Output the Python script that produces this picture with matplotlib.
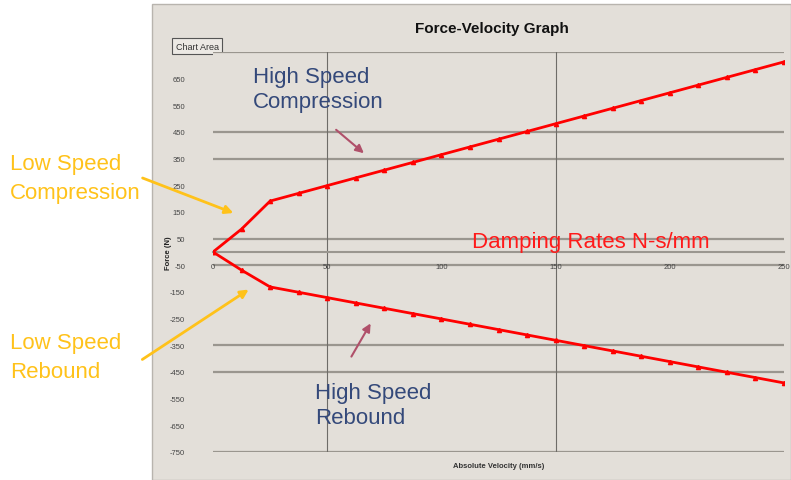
import numpy as np
import matplotlib.pyplot as plt
from matplotlib.patches import Rectangle

plt.rcParams['font.family'] = ['Liberation Sans', 'DejaVu Sans']

W, H = 791, 481

# data
velocity = [0, 12.5, 25, 37.5, 50, 62.5, 75, 87.5, 100, 112.5, 125, 137.5,
            150, 162.5, 175, 187.5, 200, 212.5, 225, 237.5, 250]
compression = [0, 86, 191, 220, 249, 278, 307, 336, 365, 394, 423, 452,
               481, 510, 539, 568, 597, 626, 655, 684, 713]
rebound = [0, -68, -131, -151, -171, -191, -211, -231, -251, -271, -291, -311,
           -331, -351, -371, -391, -411, -431, -451, -471, -491]

x_ticks = [0, 50, 100, 150, 200, 250]
y_ticks = [650, 550, 450, 350, 250, 150, 50, -50, -150, -250, -350, -450, -550, -650, -750]
grid_y = [750, 450, 350, 50, -50, -350, -450, -750]
grid_x = [50, 150]

bg_col = '#e3dfd9'
line_col = 'red'


def px_axes(fig, x0, y0, x1, y1):
    # axes from pixel box (top-left origin)
    return fig.add_axes([x0 / W, 1 - y1 / H, (x1 - x0) / W, (y1 - y0) / H])


fig = plt.figure(figsize=(W / 100, H / 100), dpi=100)
fig.patch.set_facecolor('white')

bg = fig.add_axes([0, 0, 1, 1])
bg.set_xlim(0, W)
bg.set_ylim(H, 0)
bg.axis('off')
bg.add_patch(Rectangle((152, 5), W - 152, H - 5, facecolor=bg_col, edgecolor='#b8b4ae', lw=1))
bg.text(492, 29, 'Force-Velocity Graph', ha='center', va='center',
        fontsize=11, fontweight='bold', color='#111111')
bg.text(197, 47, 'Chart Area', ha='center', va='center', fontsize=6.5, color='#333333',
        bbox=dict(boxstyle='square,pad=0.35', facecolor='#ece9e4', edgecolor='#555555', lw=0.8))

ax = px_axes(fig, 213, 53, 784, 453)
ax.set_facecolor(bg_col)
ax.set_xlim(0, 250)
ax.set_ylim(-750, 750)
for s in ['left', 'right', 'top']:
    ax.spines[s].set_visible(False)
ax.spines['bottom'].set_position(('data', 0))
ax.spines['bottom'].set_color('#9a968f')
ax.spines['bottom'].set_linewidth(1.5)

for g in grid_y:
    ax.axhline(g, color='#9a968f', lw=1.6, zorder=1)
for g in grid_x:
    ax.axvline(g, color='#6e6c68', lw=0.8, zorder=1)

ax.plot(velocity, compression, color=line_col, lw=2, marker='^', markersize=3, zorder=3)
ax.plot(velocity, rebound, color=line_col, lw=2, marker='^', markersize=3, zorder=3)

ax.set_xticks(x_ticks)
ax.set_xticklabels([str(v) for v in x_ticks], fontsize=5.5, color='#444444')
ax.tick_params(axis='x', length=0, pad=8)
ax.set_yticks(y_ticks)
ax.set_yticklabels([str(v) for v in y_ticks], fontsize=5.5, color='#444444')
ax.tick_params(axis='y', length=0, pad=20)

ax.set_xlabel('Absolute Velocity (mm/s)', fontsize=5.5, fontweight='bold', color='#333333')
ax.xaxis.set_label_coords(0.5, -0.025)
ax.set_ylabel('Force (N)', fontsize=5.5, fontweight='bold', color='#222222')
ax.yaxis.set_label_coords(-0.072, 0.5)

# overlay for the hand-made annotations
ov = fig.add_axes([0, 0, 1, 1])
ov.set_xlim(0, W)
ov.set_ylim(H, 0)
ov.axis('off')
ov.patch.set_alpha(0)

blue = '#34497a'
gold = '#ffc21a'
mauve = '#b0506a'

ov.text(253, 90, 'High Speed\nCompression', fontsize=16, color=blue, ha='left', va='center',
        linespacing=1.2)
ov.text(315, 406, 'High Speed\nRebound', fontsize=16, color=blue, ha='left', va='center',
        linespacing=1.2)
ov.text(10, 179, 'Low Speed\nCompression', fontsize=16, color=gold, ha='left', va='center',
        linespacing=1.45)
ov.text(10, 358, 'Low Speed\nRebound', fontsize=16, color=gold, ha='left', va='center',
        linespacing=1.45)
ov.text(472, 243, 'Damping Rates N-s/mm', fontsize=16, color='#ff1a1a', ha='left', va='center')

arrow = dict(arrowstyle='-|>', lw=2, mutation_scale=12)
ov.annotate('', xy=(236, 215), xytext=(140, 178), arrowprops=dict(arrow, color=gold))
ov.annotate('', xy=(251, 289), xytext=(140, 362), arrowprops=dict(arrow, color=gold))
ov.annotate('', xy=(366, 156), xytext=(334, 129), arrowprops=dict(arrow, color=mauve, lw=1.5))
ov.annotate('', xy=(372, 322), xytext=(350, 360), arrowprops=dict(arrow, color=mauve, lw=1.5))

fig.savefig('out.png', dpi=100)
